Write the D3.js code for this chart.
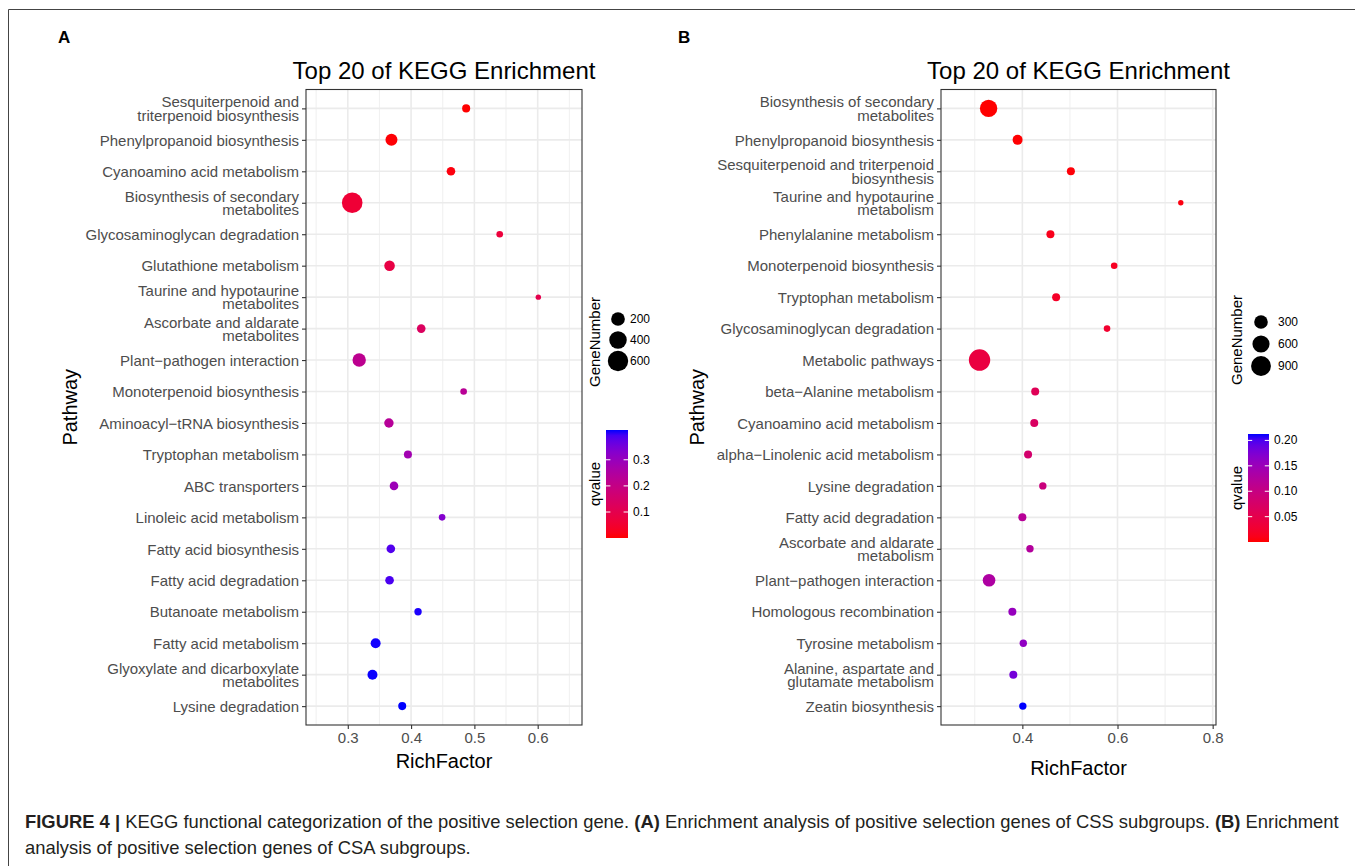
<!DOCTYPE html>
<html><head><meta charset="utf-8">
<script src="https://cdn.jsdelivr.net/npm/d3@7"></script>
<style>
body{margin:0;background:#fff}
svg{display:block}
text{font-family:"Liberation Sans",Arial,Helvetica,sans-serif}
</style>
</head><body>
<svg id="chart" width="1355" height="866"></svg>
<script>
// ---------- DATA ----------
const titleText = "Top 20 of KEGG Enrichment";

const pathwaysA = [
  "Sesquiterpenoid and\ntriterpenoid biosynthesis",
  "Phenylpropanoid biosynthesis",
  "Cyanoamino acid metabolism",
  "Biosynthesis of secondary\nmetabolites",
  "Glycosaminoglycan degradation",
  "Glutathione metabolism",
  "Taurine and hypotaurine\nmetabolites",
  "Ascorbate and aldarate\nmetabolites",
  "Plant\u2212pathogen interaction",
  "Monoterpenoid biosynthesis",
  "Aminoacyl\u2212tRNA biosynthesis",
  "Tryptophan metabolism",
  "ABC transporters",
  "Linoleic acid metabolism",
  "Fatty acid biosynthesis",
  "Fatty acid degradation",
  "Butanoate metabolism",
  "Fatty acid metabolism",
  "Glyoxylate and dicarboxylate\nmetabolites",
  "Lysine degradation"
];
const richFactorA = [0.487,0.369,0.463,0.307,0.540,0.366,0.601,0.416,0.318,0.483,0.365,0.395,0.373,0.449,0.368,0.366,0.411,0.344,0.339,0.386];
const geneNumberA = [38,133,47,620,24,90,20,47,186,24,62,38,47,24,47,47,30,75,75,38];
const qvalueA = [0.0005,0.004,0.01,0.06,0.07,0.085,0.10,0.13,0.22,0.23,0.235,0.28,0.29,0.33,0.385,0.39,0.41,0.412,0.413,0.414];
const xTicksA = [0.3,0.4,0.5,0.6];
const xMinorA = [0.25,0.35,0.45,0.55,0.65];
const sizeBreaksA = [200,400,600];
const qTicksA = [0.1,0.2,0.3];

const pathwaysB = [
  "Biosynthesis of secondary\nmetabolites",
  "Phenylpropanoid biosynthesis",
  "Sesquiterpenoid and triterpenoid\nbiosynthesis",
  "Taurine and hypotaurine\nmetabolism",
  "Phenylalanine metabolism",
  "Monoterpenoid biosynthesis",
  "Tryptophan metabolism",
  "Glycosaminoglycan degradation",
  "Metabolic pathways",
  "beta\u2212Alanine metabolism",
  "Cyanoamino acid metabolism",
  "alpha\u2212Linolenic acid metabolism",
  "Lysine degradation",
  "Fatty acid degradation",
  "Ascorbate and aldarate\nmetabolism",
  "Plant\u2212pathogen interaction",
  "Homologous recombination",
  "Tyrosine metabolism",
  "Alanine, aspartate and\nglutamate metabolism",
  "Zeatin biosynthesis"
];
const richFactorB = [0.329,0.390,0.502,0.733,0.459,0.593,0.471,0.578,0.310,0.427,0.425,0.412,0.443,0.400,0.416,0.330,0.379,0.402,0.381,0.401];
const geneNumberB = [625,105,44,15,44,21,44,21,1100,44,44,44,32,44,32,235,44,32,44,32];
const qvalueB = [0.0002,0.001,0.003,0.006,0.012,0.016,0.02,0.025,0.04,0.06,0.07,0.08,0.095,0.12,0.125,0.13,0.155,0.16,0.18,0.2126];
const xTicksB = [0.4,0.6,0.8];
const xMinorB = [0.3,0.5,0.7];
const sizeBreaksB = [300,600,900];
const qTicksB = [0.05,0.10,0.15,0.20];

const captionLines = [
  [["FIGURE 4 | ", true],["KEGG functional categorization of the positive selection gene. ", false],["(A)", true],[" Enrichment analysis of positive selection genes of CSS subgroups. ", false],["(B)", true],[" Enrichment", false]],
  [["analysis of positive selection genes of CSA subgroups.", false]]
];

// ---------- DRAW ----------
const svg = d3.select("#chart");
const FONT_AXIS = 15;

// outer figure frame
svg.append("line").attr("x1",8.5).attr("x2",1355).attr("y1",9.5).attr("y2",9.5).attr("stroke","#444").attr("stroke-width",1);
svg.append("line").attr("x1",8.5).attr("x2",8.5).attr("y1",9.5).attr("y2",866).attr("stroke","#444").attr("stroke-width",1);

function drawPanel(cfg){
  const g = svg.append("g");
  const x = d3.scaleLinear().domain(cfg.xDomain).range([cfg.x0, cfg.x1]);
  const y = d3.scalePoint().domain(cfg.pathways).range([cfg.y0, cfg.y1]).padding(0.6);

  const qmin = d3.min(cfg.q), qmax = d3.max(cfg.q);
  const color = d3.scaleLinear().domain([qmin,qmax]).range(["red","blue"]).interpolate(d3.interpolateLab);
  const gmin = d3.min(cfg.genes), gmax = d3.max(cfg.genes);
  const sq = d3.scaleSqrt().domain([0, gmax-gmin]).range([0, cfg.rmax - cfg.rmin]);
  const rad = v => cfg.rmin + sq(Math.max(0, v - gmin));

  // panel letter and title
  g.append("text").attr("x",cfg.letterX).attr("y",43).attr("font-size",17).attr("font-weight","bold").attr("fill","#000").text(cfg.letter);
  g.append("text").attr("x",(cfg.x0+cfg.x1)/2).attr("y",79).attr("text-anchor","middle").attr("font-size",24).attr("fill","#000").text(titleText);

  // grid
  g.selectAll(".minx").data(cfg.xMinor).join("line")
    .attr("x1",d=>x(d)).attr("x2",d=>x(d)).attr("y1",cfg.y0).attr("y2",cfg.y1)
    .attr("stroke","#EBEBEB").attr("stroke-width",0.8);
  g.selectAll(".majx").data(cfg.xTicks).join("line")
    .attr("x1",d=>x(d)).attr("x2",d=>x(d)).attr("y1",cfg.y0).attr("y2",cfg.y1)
    .attr("stroke","#EBEBEB").attr("stroke-width",1.6);
  g.selectAll(".majy").data(cfg.pathways).join("line")
    .attr("x1",cfg.x0).attr("x2",cfg.x1).attr("y1",d=>y(d)).attr("y2",d=>y(d))
    .attr("stroke","#EBEBEB").attr("stroke-width",1.6);

  // points
  const idx = d3.range(cfg.pathways.length);
  g.selectAll(".pt").data(idx).join("circle")
    .attr("cx",i=>x(cfg.rich[i])).attr("cy",i=>y(cfg.pathways[i]))
    .attr("r",i=>rad(cfg.genes[i])).attr("fill",i=>color(cfg.q[i]));

  // panel border
  g.append("rect").attr("x",cfg.x0).attr("y",cfg.y0).attr("width",cfg.x1-cfg.x0).attr("height",cfg.y1-cfg.y0)
    .attr("fill","none").attr("stroke","#333").attr("stroke-width",1.1);

  // y axis
  const ya = g.append("g").attr("transform",`translate(${cfg.x0},0)`)
    .call(d3.axisLeft(y).tickSize(4).tickPadding(3));
  ya.select(".domain").remove();
  ya.selectAll(".tick line").attr("stroke","#333").attr("stroke-width",1.1);
  ya.selectAll(".tick text").attr("font-size",FONT_AXIS).attr("fill","#4D4D4D").attr("font-family",null)
    .each(function(d){
      const el = d3.select(this);
      const lines = d.split("\n");
      const lh = 13.3;
      el.text(null).attr("dy",null);
      lines.forEach((l,i)=>{
        el.append("tspan").attr("x",-7)
          .attr("dy", i===0 ? (5.2 - (lines.length-1)*lh/2) : lh)
          .text(l);
      });
    });

  // x axis
  const xa = g.append("g").attr("transform",`translate(0,${cfg.y1})`)
    .call(d3.axisBottom(x).tickValues(cfg.xTicks).tickFormat(d3.format(".1f")).tickSize(4).tickPadding(3));
  xa.select(".domain").remove();
  xa.selectAll(".tick line").attr("stroke","#333").attr("stroke-width",1.1);
  xa.selectAll(".tick text").attr("font-size",FONT_AXIS).attr("fill","#4D4D4D").attr("font-family",null);

  // axis titles
  g.append("text").attr("x",(cfg.x0+cfg.x1)/2).attr("y",cfg.xTitleY).attr("text-anchor","middle")
    .attr("font-size",20).attr("fill","#000").text("RichFactor");
  g.append("text").attr("transform",`translate(${cfg.yTitleX},${(cfg.y0+cfg.y1)/2}) rotate(-90)`)
    .attr("text-anchor","middle").attr("font-size",20).attr("fill","#000").text("Pathway");

  // size legend
  const L = cfg.legend;
  g.append("text").attr("transform",`translate(${L.titleX},${L.sizeTitleY}) rotate(-90)`)
    .attr("text-anchor","middle").attr("font-size",15).attr("fill","#000").text("GeneNumber");
  cfg.sizeBreaks.forEach((b,i)=>{
    const cy = L.sizeY0 + i*L.sizeStep;
    g.append("circle").attr("cx",L.sizeX).attr("cy",cy).attr("r",rad(b)).attr("fill","#000");
    g.append("text").attr("x",L.sizeLabelX).attr("y",cy+4).attr("font-size",12).attr("fill","#000").text(b);
  });

  // colour bar
  const gradId = "grad"+cfg.letter;
  const grad = svg.append("defs").append("linearGradient").attr("id",gradId)
    .attr("x1",0).attr("y1",1).attr("x2",0).attr("y2",0);
  d3.range(0,1.0001,0.05).forEach(t=>{
    grad.append("stop").attr("offset",t).attr("stop-color",color(qmin + t*(qmax-qmin)));
  });
  const cy = d3.scaleLinear().domain([qmin,qmax]).range([L.barY1, L.barY0]);
  g.append("rect").attr("x",L.barX0).attr("y",L.barY0).attr("width",L.barX1-L.barX0).attr("height",L.barY1-L.barY0)
    .attr("fill",`url(#${gradId})`);
  const bw = L.barX1-L.barX0;
  cfg.qTicks.forEach(t=>{
    const yy = cy(t);
    g.append("line").attr("x1",L.barX0).attr("x2",L.barX0+bw/5).attr("y1",yy).attr("y2",yy).attr("stroke","#fff").attr("stroke-width",1);
    g.append("line").attr("x1",L.barX1-bw/5).attr("x2",L.barX1).attr("y1",yy).attr("y2",yy).attr("stroke","#fff").attr("stroke-width",1);
    g.append("text").attr("x",L.barX1+5).attr("y",yy+4).attr("font-size",12).attr("fill","#000").text(d3.format(cfg.qFormat)(t));
  });
  g.append("text").attr("transform",`translate(${L.titleX},${(L.barY0+L.barY1)/2}) rotate(-90)`)
    .attr("text-anchor","middle").attr("font-size",15).attr("fill","#000").text("qvalue");
}

drawPanel({
  letter:"A", letterX:58,
  pathways:pathwaysA, rich:richFactorA, genes:geneNumberA, q:qvalueA,
  xTicks:xTicksA, xMinor:xMinorA, sizeBreaks:sizeBreaksA, qTicks:qTicksA, qFormat:".1f",
  x0:306, x1:582, y0:89.5, y1:725, xDomain:[0.234,0.670],
  rmin:2.7, rmax:10.3,
  xTitleY:768, yTitleX:77,
  legend:{titleX:600, sizeTitleY:342, sizeX:618, sizeY0:319, sizeStep:21, sizeLabelX:630,
          barX0:606, barX1:628, barY0:430, barY1:538}
});

drawPanel({
  letter:"B", letterX:678,
  pathways:pathwaysB, rich:richFactorB, genes:geneNumberB, q:qvalueB,
  xTicks:xTicksB, xMinor:xMinorB, sizeBreaks:sizeBreaksB, qTicks:qTicksB, qFormat:".2f",
  x0:941, x1:1216, y0:89.5, y1:725, xDomain:[0.229,0.807],
  rmin:2.7, rmax:10.7,
  xTitleY:775, yTitleX:704,
  legend:{titleX:1242, sizeTitleY:340, sizeX:1261, sizeY0:322, sizeStep:22, sizeLabelX:1278,
          barX0:1248, barX1:1269, barY0:434, barY1:542}
});

// caption
const cap = svg.append("g");
captionLines.forEach((line,li)=>{
  const t = cap.append("text").attr("x",25).attr("y",828 + li*26).attr("font-size",18.4).attr("fill","#231F20");
  line.forEach(([s,b])=>{
    t.append("tspan").attr("font-weight",b?"bold":"normal").text(s);
  });
});
</script>
</body></html>
